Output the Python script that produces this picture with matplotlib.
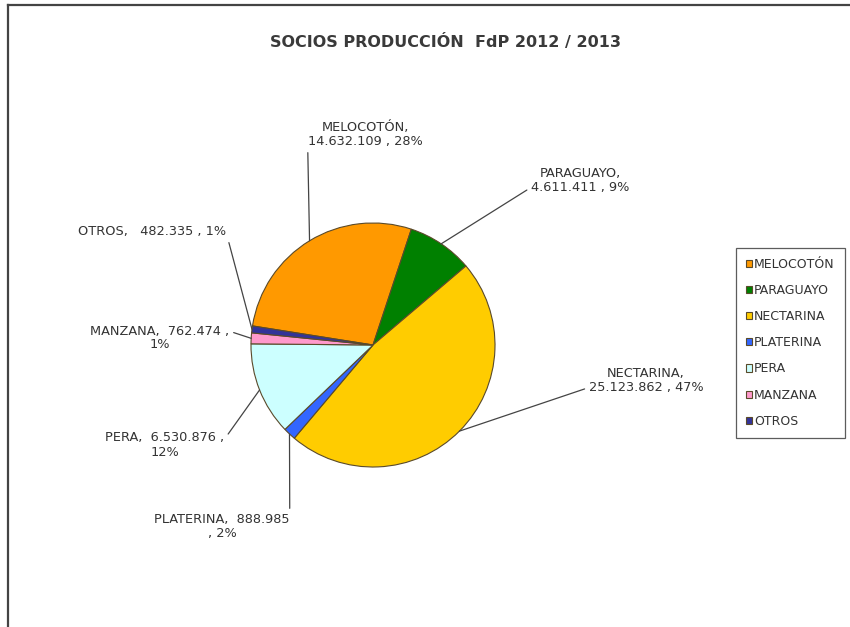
import numpy as np
import matplotlib
matplotlib.use("Agg")
import matplotlib.pyplot as plt
from matplotlib.lines import Line2D

# socios produccion FdP 2012/2013, kg por fruta
categorias = ['MELOCOTÓN', 'PARAGUAYO', 'NECTARINA', 'PLATERINA', 'PERA', 'MANZANA', 'OTROS']
valores = [14632109, 4611411, 25123862, 888985, 6530876, 762474, 482335]
porcentajes = ['28%', '9%', '47%', '2%', '12%', '1%', '1%']
colores = ['#FF9900', '#008000', '#FFCC00', '#3366FF', '#CCFFFF', '#FF99CC', '#333399']

W, H = 850, 627
fig = plt.figure(figsize=(W / 100, H / 100), dpi=100)
fig.patch.set_facecolor('white')

# frame lines (left and top) like the screenshot
fig.add_artist(Line2D([8 / W, 8 / W], [0, 1 - 5 / H], color='#444444', lw=1.6))
fig.add_artist(Line2D([8 / W, 1], [1 - 5 / H, 1 - 5 / H], color='#444444', lw=1.6))

cx, cy, r = 373, 345, 122
ax = fig.add_axes([(cx - r) / W, (H - cy - r) / H, 2 * r / W, 2 * r / H])
start = 171
wedges, _ = ax.pie(valores, colors=colores, startangle=start, counterclock=False,
                   radius=1, wedgeprops=dict(edgecolor='#5a4a2a', linewidth=0.8))
ax.set_xlim(-1, 1)
ax.set_ylim(-1, 1)
ax.set_aspect('equal')
ax.axis('off')

fig.text(445 / W, 1 - 42 / H, 'SOCIOS PRODUCCIÓN  FdP 2012 / 2013', ha='center', va='center',
         fontsize=11.5, fontweight='bold', color='#3a3a3a')

def fmt(v):
    return f'{v:,}'.replace(',', '.')

# label text, centre position in image pixels, line start on text box
etiquetas = [
    ('{n},\n{v} , {p}', (365, 135), (0.0, 0.22)),
    ('{n},\n{v} , {p}', (580, 180), (0.0, 0.22)),
    ('{n},\n{v} , {p}', (646, 380), (0.0, 0.22)),
    ('{n},  {v}\n, {p}', (222, 526), (1.0, 0.85)),
    ('{n},  {v} ,\n{p}', (165, 445), (1.0, 0.72)),
    ('{n},  {v} ,\n{p}', (160, 338), (1.0, 0.75)),
    ('{n},   {v} , {p}', (152, 232), (1.0, 0.5)),
]

total = sum(valores)
ang = start
for w, n, v, p, (plantilla, (tx, ty), rel) in zip(wedges, categorias, valores, porcentajes, etiquetas):
    span = 360 * v / total
    mid = np.deg2rad(ang - span / 2)
    ang -= span
    ax.annotate(plantilla.format(n=n, v=fmt(v), p=p),
                xy=(np.cos(mid), np.sin(mid)), xycoords='data',
                xytext=(tx, H - ty), textcoords='figure pixels',
                ha='center', va='center', multialignment='center',
                fontsize=9.3, color='#333333', linespacing=1.1,
                arrowprops=dict(arrowstyle='-', color='#444444', lw=0.9,
                                shrinkA=1, shrinkB=0, relpos=rel))

leg = fig.legend(wedges, categorias, loc='upper left',
                 bbox_to_anchor=(736 / W, 1 - 248 / H), fontsize=9,
                 frameon=True, fancybox=False, edgecolor='#333333',
                 handlelength=0.5, handleheight=0.5, handletextpad=0.15,
                 labelspacing=1.05, borderpad=0.8, borderaxespad=0)
leg.get_frame().set_linewidth(0.9)
for t in leg.get_texts():
    t.set_color('#333333')

fig.savefig('out.png', dpi=100)
